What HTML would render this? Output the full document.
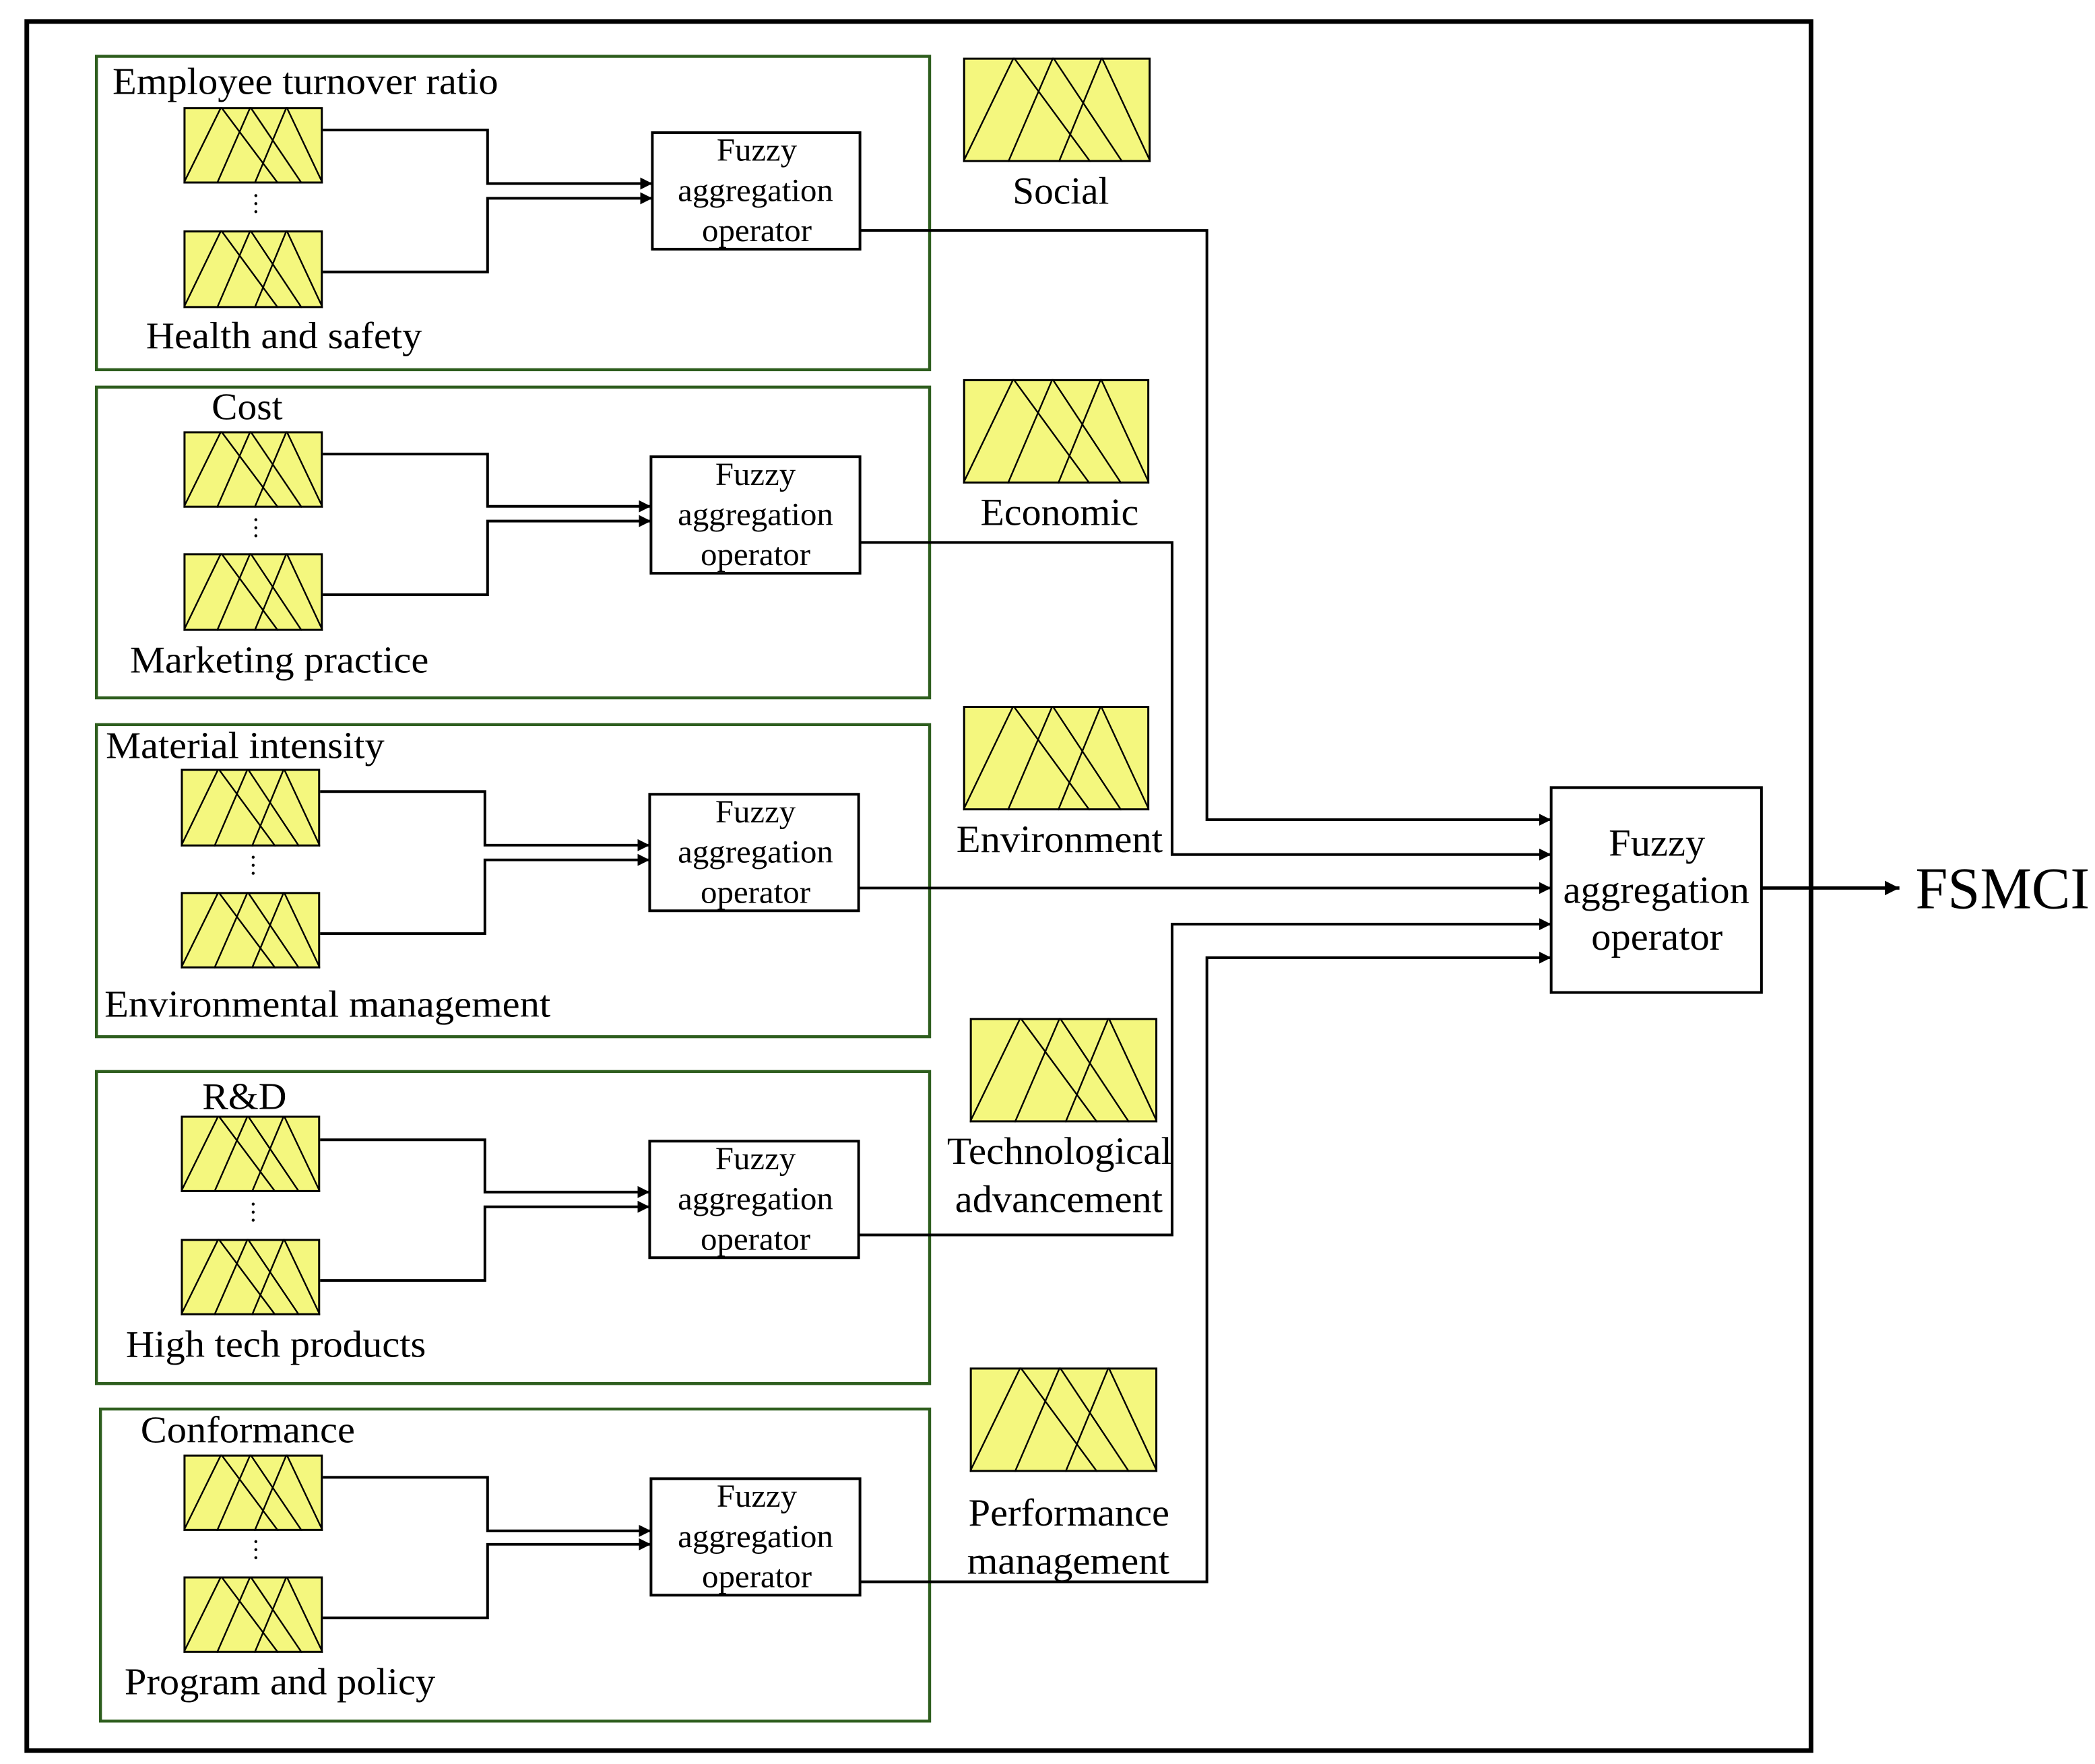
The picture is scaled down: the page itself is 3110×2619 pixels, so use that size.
<!DOCTYPE html>
<html><head><meta charset="utf-8"><style>
html,body{margin:0;padding:0;background:#fff;}
svg{display:block;}
text{font-family:"Liberation Serif",serif;fill:#000;}
</style></head><body>
<svg width="3110" height="2619" viewBox="0 0 1564 1317" xmlns="http://www.w3.org/2000/svg">
<defs>
<symbol id="fz" viewBox="0 0 100 100" preserveAspectRatio="none">
<rect x="0" y="0" width="100" height="100" fill="#f4f77e" stroke="#000" stroke-width="6" vector-effect="non-scaling-stroke"/>
<polyline points="0,100 27,0 68,100" fill="none" stroke="#000" stroke-width="2.4" vector-effect="non-scaling-stroke"/>
<polyline points="24,100 48,0 85,100" fill="none" stroke="#000" stroke-width="2.4" vector-effect="non-scaling-stroke"/>
<polyline points="51,100 74,0 100,100" fill="none" stroke="#000" stroke-width="2.4" vector-effect="non-scaling-stroke"/>
</symbol>
<marker id="ar" viewBox="0 0 10 10" refX="10" refY="5" markerWidth="9" markerHeight="9" markerUnits="userSpaceOnUse" orient="auto">
<path d="M0,0 L10,5 L0,10 z" fill="#000"/>
</marker>
<marker id="ar2" viewBox="0 0 10 10" refX="10" refY="5" markerWidth="11" markerHeight="11" markerUnits="userSpaceOnUse" orient="auto">
<path d="M0,0 L10,5 L0,10 z" fill="#000"/>
</marker>
</defs>

<rect x="20" y="16" width="1332" height="1291" fill="none" stroke="#000" stroke-width="3.5"/>

<g fill="none" stroke="#2e5e1e" stroke-width="2.2">
<rect x="72" y="42" width="622" height="234"/>
<rect x="72" y="289" width="622" height="232"/>
<rect x="72" y="541" width="622" height="233"/>
<rect x="72" y="800" width="622" height="233"/>
<rect x="75" y="1052" width="619" height="233"/>
</g>

<use href="#fz" x="137" y="80" width="104" height="57"/>
<use href="#fz" x="137" y="172" width="104" height="58"/>
<use href="#fz" x="137" y="322" width="104" height="57"/>
<use href="#fz" x="137" y="413" width="104" height="58"/>
<use href="#fz" x="135" y="574" width="104" height="58"/>
<use href="#fz" x="135" y="666" width="104" height="57"/>
<use href="#fz" x="135" y="833" width="104" height="57"/>
<use href="#fz" x="135" y="925" width="104" height="57"/>
<use href="#fz" x="137" y="1086" width="104" height="57"/>
<use href="#fz" x="137" y="1177" width="104" height="57"/>

<use href="#fz" x="719" y="43" width="140" height="78"/>
<use href="#fz" x="719" y="283" width="139" height="78"/>
<use href="#fz" x="719" y="527" width="139" height="78"/>
<use href="#fz" x="724" y="760" width="140" height="78"/>
<use href="#fz" x="724" y="1021" width="140" height="78"/>

<g fill="#000">
<circle cx="191" cy="146" r="1.1"/><circle cx="191" cy="152" r="1.1"/><circle cx="191" cy="158" r="1.1"/>
<circle cx="191" cy="388" r="1.1"/><circle cx="191" cy="394" r="1.1"/><circle cx="191" cy="400" r="1.1"/>
<circle cx="189" cy="640" r="1.1"/><circle cx="189" cy="646" r="1.1"/><circle cx="189" cy="652" r="1.1"/>
<circle cx="189" cy="899" r="1.1"/><circle cx="189" cy="905" r="1.1"/><circle cx="189" cy="911" r="1.1"/>
<circle cx="191" cy="1151" r="1.1"/><circle cx="191" cy="1157" r="1.1"/><circle cx="191" cy="1163" r="1.1"/>
</g>

<g fill="#fff" stroke="#000" stroke-width="2">
<rect x="487" y="99" width="155" height="87"/>
<rect x="486" y="341" width="156" height="87"/>
<rect x="485" y="593" width="156" height="87"/>
<rect x="485" y="852" width="156" height="87"/>
<rect x="486" y="1104" width="156" height="87"/>
<rect x="1158" y="588" width="157" height="153"/>
</g>

<g fill="none" stroke="#000" stroke-width="2" marker-end="url(#ar)">
<polyline points="241,97 364,97 364,137 487,137"/>
<polyline points="241,203 364,203 364,148 487,148"/>
<polyline points="241,339 364,339 364,378 486,378"/>
<polyline points="241,444 364,444 364,389 486,389"/>
<polyline points="239,591 362,591 362,631 485,631"/>
<polyline points="239,697 362,697 362,642 485,642"/>
<polyline points="239,851 362,851 362,890 485,890"/>
<polyline points="239,956 362,956 362,901 485,901"/>
<polyline points="241,1103 364,1103 364,1143 486,1143"/>
<polyline points="241,1208 364,1208 364,1153 486,1153"/>
</g>
<g fill="none" stroke="#000" stroke-width="2" marker-end="url(#ar)">
<polyline points="642,172 901,172 901,612 1158,612"/>
<polyline points="642,405 875,405 875,638 1158,638"/>
<polyline points="641,663 1158,663"/>
<polyline points="641,922 875,922 875,690 1158,690"/>
<polyline points="642,1181 901,1181 901,715 1158,715"/>
</g>
<line x1="1315" y1="663" x2="1418" y2="663" stroke="#000" stroke-width="2.5" marker-end="url(#ar2)"/>

<g font-size="24">
<text x="535" y="120" textLength="60" lengthAdjust="spacingAndGlyphs">Fuzzy</text><text x="506" y="150" textLength="116" lengthAdjust="spacingAndGlyphs">aggregation</text><text x="524" y="180" textLength="82" lengthAdjust="spacingAndGlyphs">operator</text>
<text x="534" y="362" textLength="60" lengthAdjust="spacingAndGlyphs">Fuzzy</text><text x="506" y="392" textLength="116" lengthAdjust="spacingAndGlyphs">aggregation</text><text x="523" y="422" textLength="82" lengthAdjust="spacingAndGlyphs">operator</text>
<text x="534" y="614" textLength="60" lengthAdjust="spacingAndGlyphs">Fuzzy</text><text x="506" y="644" textLength="116" lengthAdjust="spacingAndGlyphs">aggregation</text><text x="523" y="674" textLength="82" lengthAdjust="spacingAndGlyphs">operator</text>
<text x="534" y="873" textLength="60" lengthAdjust="spacingAndGlyphs">Fuzzy</text><text x="506" y="903" textLength="116" lengthAdjust="spacingAndGlyphs">aggregation</text><text x="523" y="933" textLength="82" lengthAdjust="spacingAndGlyphs">operator</text>
<text x="535" y="1125" textLength="60" lengthAdjust="spacingAndGlyphs">Fuzzy</text><text x="506" y="1155" textLength="116" lengthAdjust="spacingAndGlyphs">aggregation</text><text x="524" y="1185" textLength="82" lengthAdjust="spacingAndGlyphs">operator</text>
</g>
<g font-size="29">
<text x="1201" y="639" textLength="72" lengthAdjust="spacingAndGlyphs">Fuzzy</text>
<text x="1167" y="674" textLength="139" lengthAdjust="spacingAndGlyphs">aggregation</text>
<text x="1188" y="709" textLength="98" lengthAdjust="spacingAndGlyphs">operator</text>
</g>
<text x="1430" y="678" font-size="44" textLength="130" lengthAdjust="spacingAndGlyphs">FSMCI</text>

<g font-size="29">
<text x="756" y="152" textLength="72" lengthAdjust="spacingAndGlyphs">Social</text>
<text x="732" y="392" textLength="118" lengthAdjust="spacingAndGlyphs">Economic</text>
<text x="714" y="636" textLength="154" lengthAdjust="spacingAndGlyphs">Environment</text>
<text x="707" y="869" textLength="168" lengthAdjust="spacingAndGlyphs">Technological</text>
<text x="713" y="905" textLength="155" lengthAdjust="spacingAndGlyphs">advancement</text>
<text x="723" y="1139" textLength="150" lengthAdjust="spacingAndGlyphs">Performance</text>
<text x="722" y="1175" textLength="151" lengthAdjust="spacingAndGlyphs">management</text>
</g>

<g font-size="28">
<text x="84" y="70" textLength="288" lengthAdjust="spacingAndGlyphs">Employee turnover ratio</text>
<text x="109" y="260" textLength="206" lengthAdjust="spacingAndGlyphs">Health and safety</text>
<text x="158" y="313" textLength="53" lengthAdjust="spacingAndGlyphs">Cost</text>
<text x="97" y="502" textLength="223" lengthAdjust="spacingAndGlyphs">Marketing practice</text>
<text x="79" y="566" textLength="208" lengthAdjust="spacingAndGlyphs">Material intensity</text>
<text x="78" y="759" textLength="333" lengthAdjust="spacingAndGlyphs">Environmental management</text>
<text x="151" y="828" textLength="63" lengthAdjust="spacingAndGlyphs">R&amp;D</text>
<text x="94" y="1013" textLength="224" lengthAdjust="spacingAndGlyphs">High tech products</text>
<text x="105" y="1077" textLength="160" lengthAdjust="spacingAndGlyphs">Conformance</text>
<text x="93" y="1265" textLength="232" lengthAdjust="spacingAndGlyphs">Program and policy</text>
</g>
</svg>
</body></html>
